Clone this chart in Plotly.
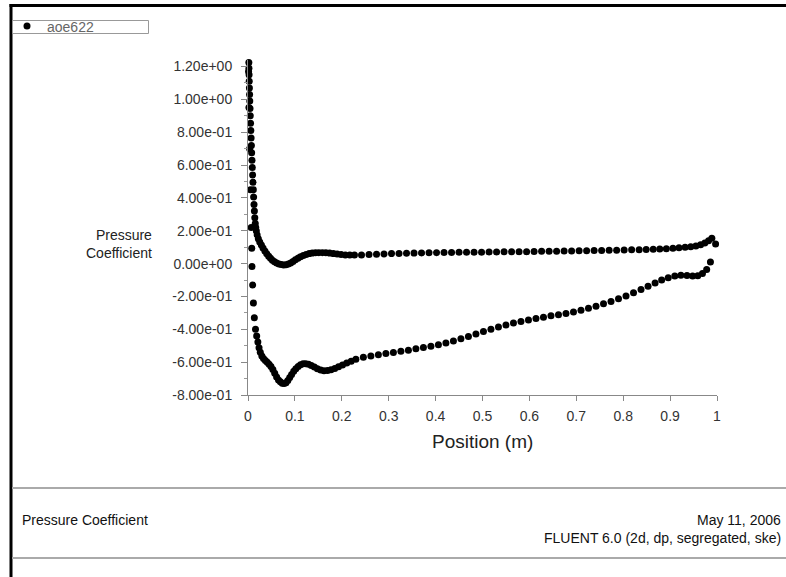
import plotly.graph_objects as go

# ---------------- data ----------------
# pressure side (upper branch of points, including the stagnation column)
pressure_x = [0.0018, 0.0020, 0.0023, 0.0026, 0.0030, 0.0034, 0.0038, 0.0043, 0.0048, 0.0054,
              0.0060, 0.0066, 0.0072, 0.0078, 0.0085, 0.0092, 0.0099, 0.0106, 0.0113, 0.0120,
              0.0128, 0.0136, 0.0145, 0.0155, 0.0165, 0.0178, 0.0195, 0.0220, 0.0250, 0.0285,
              0.0320, 0.0360, 0.0400, 0.0440, 0.0480, 0.0520, 0.0565, 0.0610, 0.0660, 0.0710,
              0.0760, 0.0810, 0.0860, 0.0910, 0.0960, 0.1010, 0.1065, 0.1120, 0.1180, 0.1240,
              0.1305, 0.1370, 0.1440, 0.1510, 0.1585, 0.1660, 0.1740, 0.1820, 0.1900, 0.1985,
              0.2075, 0.2170, 0.2270, 0.242, 0.258, 0.274, 0.290, 0.306, 0.322, 0.338,
              0.354, 0.370, 0.386, 0.402, 0.418, 0.434, 0.450, 0.466, 0.482, 0.498,
              0.514, 0.530, 0.546, 0.562, 0.578, 0.594, 0.610, 0.626, 0.642, 0.658,
              0.674, 0.690, 0.706, 0.722, 0.738, 0.754, 0.770, 0.786, 0.802, 0.818,
              0.834, 0.849, 0.864, 0.878, 0.892, 0.906, 0.919, 0.932, 0.944, 0.955,
              0.965, 0.974, 0.982, 0.989, 0.997]
pressure_cp = [1.225, 1.190, 1.150, 1.110, 1.070, 1.030, 0.990, 0.945, 0.900, 0.855,
               0.810, 0.765, 0.720, 0.675, 0.630, 0.585, 0.540, 0.495, 0.450, 0.405,
               0.360, 0.320, 0.280, 0.245, 0.220, 0.198, 0.175, 0.152, 0.132, 0.113,
               0.095, 0.077, 0.060, 0.045, 0.032, 0.021, 0.011, 0.004, -0.002, -0.006,
               -0.008, -0.007, -0.003, 0.004, 0.013, 0.023, 0.033, 0.042, 0.050, 0.056,
               0.061, 0.064, 0.066, 0.067, 0.067, 0.066, 0.064, 0.061, 0.058, 0.055,
               0.053, 0.052, 0.052, 0.053, 0.055, 0.057, 0.059, 0.061, 0.062, 0.063,
               0.064, 0.065, 0.066, 0.067, 0.068, 0.068, 0.069, 0.069, 0.070, 0.070,
               0.071, 0.071, 0.072, 0.072, 0.073, 0.073, 0.074, 0.075, 0.075, 0.076,
               0.077, 0.077, 0.078, 0.079, 0.080, 0.080, 0.081, 0.082, 0.083, 0.084,
               0.085, 0.086, 0.087, 0.089, 0.091, 0.093, 0.096, 0.099, 0.103, 0.108,
               0.115, 0.125, 0.140, 0.155, 0.120]

# suction side (lower branch of points)
suction_x = [0.0012, 0.0020, 0.0035, 0.0052, 0.0068, 0.0080, 0.0085, 0.0100, 0.0115, 0.0135,
             0.0160, 0.0185, 0.0210, 0.0235, 0.0262, 0.0295, 0.0330, 0.0370, 0.0410, 0.0450,
             0.0490, 0.0530, 0.0570, 0.0610, 0.0650, 0.0690, 0.0730, 0.0770, 0.0810, 0.0850,
             0.0890, 0.0930, 0.0975, 0.1020, 0.1070, 0.1120, 0.1175, 0.1230, 0.1290, 0.1350,
             0.1415, 0.1480, 0.1550, 0.1620, 0.1695, 0.1770, 0.1850, 0.1930, 0.2015, 0.2105,
             0.2200, 0.2300, 0.246, 0.262, 0.278, 0.294, 0.310, 0.326, 0.342, 0.358,
             0.374, 0.390, 0.406, 0.422, 0.438, 0.454, 0.470, 0.486, 0.502, 0.518,
             0.534, 0.550, 0.566, 0.582, 0.598, 0.614, 0.630, 0.646, 0.662, 0.678,
             0.694, 0.710, 0.726, 0.742, 0.758, 0.774, 0.790, 0.806, 0.822, 0.838,
             0.853, 0.868, 0.882, 0.896, 0.910, 0.923, 0.936, 0.948, 0.959, 0.969,
             0.978, 0.986]
suction_cp = [1.170, 0.950, 0.700, 0.450, 0.220, 0.094, -0.018, -0.130, -0.240, -0.330,
              -0.400, -0.440, -0.478, -0.512, -0.540, -0.562, -0.578, -0.590, -0.600, -0.612,
              -0.626, -0.645, -0.668, -0.690, -0.708, -0.720, -0.728, -0.730, -0.725, -0.712,
              -0.694, -0.675, -0.656, -0.640, -0.626, -0.616, -0.610, -0.609, -0.613, -0.620,
              -0.630, -0.640, -0.648, -0.652, -0.651, -0.646, -0.638, -0.628, -0.617, -0.605,
              -0.594, -0.582, -0.570, -0.562, -0.555, -0.548, -0.541, -0.534, -0.527, -0.519,
              -0.511, -0.503, -0.494, -0.483, -0.471, -0.458, -0.444, -0.429, -0.414, -0.400,
              -0.386, -0.374, -0.362, -0.352, -0.343, -0.334, -0.326, -0.318, -0.311, -0.303,
              -0.294, -0.284, -0.272, -0.259, -0.245, -0.230, -0.214, -0.197, -0.178, -0.158,
              -0.138, -0.118, -0.100, -0.086, -0.076, -0.071, -0.072, -0.076, -0.074, -0.060,
              -0.035, 0.010]

x_tickvals = [0, 0.1, 0.2, 0.3, 0.4, 0.5, 0.6, 0.7, 0.8, 0.9, 1.0]
x_ticktext = ["0", "0.1", "0.2", "0.3", "0.4", "0.5", "0.6", "0.7", "0.8", "0.9", "1"]
y_tickvals = [-0.8, -0.6, -0.4, -0.2, 0.0, 0.2, 0.4, 0.6, 0.8, 1.0, 1.2]
y_ticktext = ["-8.00e-01", "-6.00e-01", "-4.00e-01", "-2.00e-01", "0.00e+00", "2.00e-01",
              "4.00e-01", "6.00e-01", "8.00e-01", "1.00e+00", "1.20e+00"]

series_name = "aoe622"
x_title = "Position (m)"
y_title = "Pressure<br>Coefficient"
footer_left = "Pressure Coefficient"
footer_date = "May 11, 2006"
footer_solver = "FLUENT 6.0 (2d, dp, segregated, ske)"

# ---------------- layout geometry ----------------
W, H = 786, 577
L, R, T, B = 248, 717, 60, 395
FONT = "Liberation Sans, Arial, sans-serif"


def fx(px):
    return (px - L) / (R - L)


def fy(py):
    return (B - py) / (B - T)


fig = go.Figure()
fig.add_trace(go.Scatter(
    x=pressure_x + suction_x,
    y=pressure_cp + suction_cp,
    mode="markers",
    name=series_name,
    marker=dict(color="black", size=7),
    cliponaxis=False,
))

fig.update_layout(
    width=W, height=H,
    margin=dict(l=L, r=W - R, t=T, b=H - B, pad=0),
    paper_bgcolor="white", plot_bgcolor="white",
    font=dict(family=FONT, color="#222", size=13),
    showlegend=True,
    legend=dict(xref="container", yref="container", x=7 / W, y=1 - 26.5 / H,
                xanchor="left", yanchor="middle", bgcolor="rgba(0,0,0,0)",
                borderwidth=0, font=dict(size=14, color="#666", family=FONT)),
)

fig.update_xaxes(range=[0, 1], tickmode="array", tickvals=x_tickvals, ticktext=x_ticktext,
                 ticks="outside", ticklen=5, tickcolor="#888", showline=True, linecolor="#888",
                 linewidth=1, showgrid=False, zeroline=False, ticklabelstandoff=3,
                 tickfont=dict(size=14, color="#333"))
fig.update_yaxes(range=[-0.8, 1.24], tickmode="array", tickvals=y_tickvals, ticktext=y_ticktext,
                 ticks="outside", ticklen=6, tickcolor="#888", showline=True, linecolor="#888",
                 linewidth=1, showgrid=False, zeroline=False, ticklabelstandoff=6,
                 tickfont=dict(size=14, color="#333"),
                 minor=dict(ticks="outside", ticklen=3, tickcolor="#999", tick0=0, dtick=0.1))

shapes = [
    # page frame (top and left)
    dict(type="line", xref="paper", yref="paper", x0=fx(9.5), x1=fx(786), y0=fy(5.5), y1=fy(5.5),
         line=dict(color="black", width=3)),
    dict(type="line", xref="paper", yref="paper", x0=fx(11), x1=fx(11), y0=fy(4), y1=fy(577),
         line=dict(color="black", width=3)),
    # footer separators
    dict(type="line", xref="paper", yref="paper", x0=fx(12), x1=fx(786), y0=fy(488), y1=fy(488),
         line=dict(color="#aaa", width=2)),
    dict(type="line", xref="paper", yref="paper", x0=fx(12), x1=fx(786), y0=fy(558), y1=fy(558),
         line=dict(color="#aaa", width=2)),
    # legend box
    dict(type="rect", xref="paper", yref="paper", x0=fx(12.5), x1=fx(148.5), y0=fy(20.5), y1=fy(33.5),
         line=dict(color="#999", width=1)),
]
fig.update_layout(shapes=shapes)

annotations = [
    dict(text=y_title, x=fx(154), y=fy(244), xanchor="right", yanchor="middle", align="right",
         font=dict(size=14, color="#222")),
    dict(text=x_title, x=fx(482), y=fy(441), xanchor="center", yanchor="middle",
         font=dict(size=19, color="#222")),
    dict(text=footer_left, x=fx(20), y=fy(520), xanchor="left", yanchor="middle",
         font=dict(size=14, color="#111")),
    dict(text=footer_date, x=fx(783), y=fy(520), xanchor="right", yanchor="middle",
         font=dict(size=14, color="#111")),
    dict(text=footer_solver, x=fx(783), y=fy(538), xanchor="right", yanchor="middle",
         font=dict(size=14, color="#111")),
]
for a in annotations:
    a.update(xref="paper", yref="paper", showarrow=False)
fig.update_layout(annotations=annotations)

fig.write_html("out.html")
